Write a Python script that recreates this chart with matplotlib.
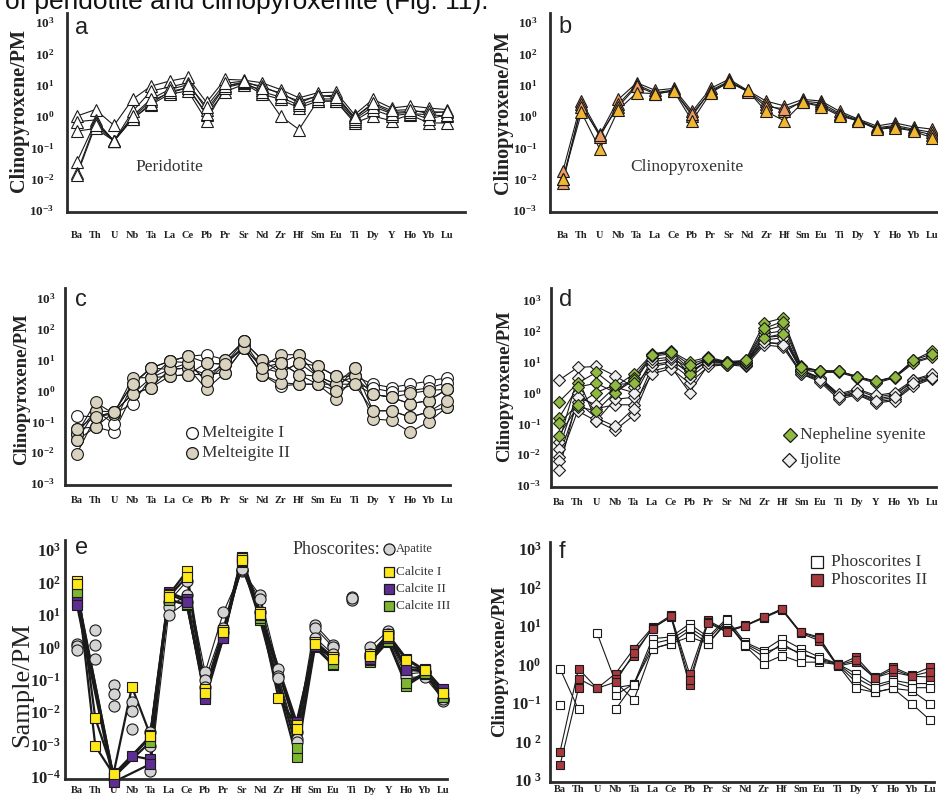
import numpy as np
import matplotlib
matplotlib.use("Agg")
import matplotlib.pyplot as plt
from matplotlib.lines import Line2D
from matplotlib.ticker import NullLocator

nan = np.nan

ELEMENTS = ["Ba", "Th", "U", "Nb", "Ta", "La", "Ce", "Pb", "Pr", "Sr", "Nd",
            "Zr", "Hf", "Sm", "Eu", "Ti", "Dy", "Y", "Ho", "Yb", "Lu"]

# a - peridotite
peridotite = [
    [1.0, 1.6, 0.5, 3.4, 9, 13, 17, 2.7, 14.8, 14, 11.5, 7, 3.8, 5.5, 5.8, 1.1, 3.4, 1.8, 2.1, 1.8, 1.6],
    [0.66, 0.75, 0.16, 1.4, 6.3, 8.4, 11.5, 1.6, 9, 11.5, 9, 5, 3.0, 4.3, 4.6, 0.9, 2.4, 1.3, 1.4, 1.4, 1.3],
    [0.33, 0.4, 0.16, 0.9, 3.0, 5.5, 8, 1.1, 6, 10, 7, 1.0, 0.37, 3.0, 3.0, 0.6, 1.0, 0.7, 1.1, 0.6, 0.6],
    [0.035, 0.65, 0.16, 0.8, 2.3, 5, 6.3, 0.7, 8, 11, 5, 3.4, 1.8, 3.0, 3.0, 0.7, 1.6, 1.0, 1.2, 1.1, 1.0],
    [0.015, 0.6, 0.16, 0.8, 2.5, 6, 8, 1.2, 9, 12, 6, 4, 2.2, 3.5, 3.5, 0.8, 2.0, 1.2, 1.3, 0.8, 1.1],
    [0.013, 0.5, 0.16, 1.0, 3.5, 7, 10, 2.0, 11, 13, 8, 5.5, 2.6, 4.5, 4.0, 0.9, 2.6, 1.5, 1.6, 1.2, 1.4],
]

# b - clinopyroxenite
clinopyroxenite_orange = [
    [0.018, 3.0, 0.26, 3.4, 11.5, 6.6, 7.6, 1.4, 7.6, 15, 6.6, 3.0, 2.1, 3.4, 3.0, 1.4, 0.8, 0.48, 0.6, 0.45, 0.38],
    [0.0075, 2.4, 0.22, 2.4, 10, 5.5, 6.8, 1.0, 6.5, 13, 6.3, 2.4, 1.4, 3.0, 2.6, 1.2, 0.75, 0.42, 0.5, 0.38, 0.3],
    [0.01, 2.0, 0.25, 2.0, 9, 5.0, 6.3, 1.2, 6.0, 12, 6.0, 2.0, 1.7, 2.8, 2.2, 1.1, 0.7, 0.4, 0.45, 0.35, 0.25],
]
clinopyroxenite_yellow = [
    [0.01, 1.3, 0.086, 1.6, 5.5, 5.2, 6.3, 0.7, 5.5, 12, 6.6, 1.4, 0.7, 2.7, 2.0, 1.0, 0.7, 0.38, 0.42, 0.33, 0.2],
]

# c - melteigite
melteigite_1 = [
    [0.15, 0.14, 0.175, 0.37, 2.6, 8.9, 12.9, 14.5, 10, 39, 10, 7.9, 14.5, 6.2, 2.9, 2.9, 1.6, 1.25, 1.6, 2.0, 2.6],
    [0.058, 0.066, 0.045, 0.76, 1.25, 2.9, 3.3, 7.9, 7, 27, 5.4, 3.8, 7.9, 2.9, 1.6, 1.6, 0.76, 0.6, 0.37, 0.47, 1.1],
    [0.04, 0.22, 0.084, 1.6, 5.4, 4.8, 5.4, 3.3, 3.8, 24, 3.3, 1.4, 1.6, 1.6, 1.0, 1.6, 1.2, 0.9, 1.0, 1.2, 1.8],
]
melteigite_2 = [
    [0.009, 0.14, 0.2, 1.6, 5.4, 8.9, 7.9, 2.0, 7, 27, 5.4, 14.5, 14.5, 2.9, 1.6, 5.4, 0.22, 0.22, 0.137, 0.2, 0.29],
    [0.024, 0.22, 0.2, 0.76, 2.6, 4.8, 5.4, 1.1, 3.8, 24, 3.3, 7.9, 3.3, 1.6, 0.53, 2.9, 0.76, 0.6, 0.37, 0.47, 1.1],
    [0.04, 0.41, 0.175, 2.6, 2.6, 2.9, 3.3, 3.3, 7, 24, 3.3, 1.8, 1.6, 1.6, 1.6, 2.9, 0.12, 0.107, 0.045, 0.095, 0.29],
    [0.024, 0.066, 0.2, 0.76, 1.25, 4.8, 7.9, 2.0, 10, 39, 10, 3.8, 7.9, 6.2, 2.9, 1.6, 0.22, 0.22, 0.137, 0.2, 0.47],
    [0.058, 0.14, 0.2, 1.6, 5.4, 8.9, 12.9, 7.9, 7, 39, 5.4, 7.9, 3.3, 2.9, 1.0, 5.4, 0.76, 0.6, 0.8, 1.0, 1.1],
]

# d - nepheline syenite / ijolite
nepheline_syenite = [
    [0.5, 2.0, 4.5, 1.5, 4, 18, 22, 10, 14, 10, 11, 180, 260, 7, 5, 5, 3.3, 2.3, 3.3, 11, 22],
    [0.15, 1.5, 2.0, 1.0, 3, 17, 20, 6, 13, 9, 10, 100, 150, 6, 5, 4.8, 3.2, 2.2, 3.2, 10, 15],
    [0.04, 0.35, 0.25, 1.0, 2.5, 15, 18, 4, 12, 8, 10, 60, 80, 5.5, 4.5, 4.5, 3.0, 2.0, 3.0, 9, 14],
    [0.1, 0.4, 1.0, 1.8, 2.0, 16, 21, 8, 13, 9, 11, 120, 200, 6.5, 5, 5, 3.2, 2.3, 3.2, 11, 18],
]
ijolite = [
    [2.5, 6.5, 7, 3.5, 1.5, 8, 10, 5, 10, 9, 9, 60, 70, 5, 3, 0.8, 1.0, 0.6, 0.8, 2.5, 3.5],
    [0.025, 3, 0.12, 0.06, 0.18, 5, 7, 1.0, 8, 8, 8, 40, 40, 4, 2.5, 0.7, 0.9, 0.5, 0.6, 1.8, 3],
    [0.015, 1.0, 0.3, 0.4, 0.4, 4, 6, 2, 7, 8, 7, 35, 30, 4, 2.2, 0.6, 0.85, 0.45, 0.55, 1.6, 2.8],
    [0.008, 0.5, 0.15, 0.08, 0.3, 7, 9, 3, 9, 9, 8, 50, 60, 5, 2.8, 0.8, 1.2, 0.7, 0.9, 2.2, 3.2],
    [0.006, 0.25, 0.12, 0.6, 0.7, 10, 12, 4, 11, 10, 9, 80, 100, 5.5, 3, 0.9, 1.3, 0.8, 1.0, 2.6, 4],
    [0.003, 0.7, 0.4, 1.5, 1.0, 12, 14, 6, 12, 10, 9, 45, 35, 4.5, 2.6, 0.7, 1.0, 0.55, 0.7, 2.0, 3.0],
]

# e - phoscorite minerals
apatite = [
    [1.3, 3.3, 0.07, 0.02, 0.0025, 25, 110, 0.17, 12, 230, 40, 0.22, 0.0025, 5, 1.2, 35, 1.0, 3.2, 0.2, 0.17, 0.025],
    [1.1, 1.2, 0.035, 0.011, 0.0009, 18, 40, 0.1, 4, 240, 30, 0.13, 0.0015, 4, 1.0, 28, 0.6, 2.5, 0.15, 0.17, 0.022],
    [0.85, 0.45, 0.015, 0.003, 0.00015, 10, 25, 0.06, 3, 260, 12, 0.11, 0.0012, 2, 0.6, 32, 0.5, 2.0, 0.12, 0.12, 0.025],
]
calcite_1 = [
    [110, 0.0065, 1.3e-4, 0.06, 0.002, 40, 220, 0.05, 3.5, 550, 12, 0.028, 0.004, 1.5, 0.5, nan, 0.6, 2.5, 0.45, 0.2, 0.04],
    [90, 0.0009, 1.2e-4, nan, 0.0018, 35, 150, 0.04, 3, 500, 11, nan, 0.003, 1.3, 0.45, nan, 0.55, 2.2, 0.4, 0.2, 0.04],
]
calcite_2 = [
    [25, nan, 9e-5, 4.5e-4, 3.5e-4, 50, 30, 0.03, 2.5, 600, 12, nan, 0.005, 1.3, 0.5, nan, 0.5, 2.2, 0.25, 0.22, 0.05],
    [20, nan, 7e-5, nan, 2.5e-4, 45, 25, 0.025, 2, 550, 10, nan, 0.004, 1.1, 0.45, nan, 0.45, 2.0, 0.2, 0.2, 0.04],
]
calcite_3 = [
    [50, nan, 1e-4, nan, 0.0017, 30, 20, 0.04, 2, 420, 7, nan, 4e-4, 1.0, 0.28, nan, 0.35, 1.5, 0.065, 0.15, 0.03],
    [45, nan, 1e-4, nan, 0.0012, 28, 22, 0.035, 2.2, 450, 8, nan, 8e-4, 1.1, 0.3, nan, 0.4, 1.6, 0.08, 0.16, 0.03],
]

# f - phoscorites
phoscorites_1 = [
    [0.78, 0.068, nan, 0.068, 0.32, 4.7, 5.2, 11.4, 5.2, 15.5, 3.8, 2.3, 4.7, 2.6, 1.57, 1.05, 0.58, 0.29, 0.39, 0.32, 0.32],
    [0.087, nan, 6.6, 0.35, 0.12, 2.6, 3.5, 7.7, 3.5, 13, 3.1, 1.05, 1.7, 1.15, 1.15, 1.0, 0.35, 0.19, 0.24, 0.21, 0.097],
    [nan, nan, nan, 0.16, 0.32, 2.6, 3.5, 5.2, 3.5, 12, 3.5, 2.0, 3.0, 2.0, 1.3, 1.0, 0.24, 0.19, 0.24, 0.097, 0.036],
    [nan, nan, nan, 0.25, 0.3, 3.5, 4.5, 9, 4.5, 14, 3.3, 1.6, 3.5, 1.8, 1.4, 1.05, 0.45, 0.25, 0.35, 0.25, 0.25],
]
phoscorites_2 = [
    [0.0054, 0.78, 0.24, 0.58, 2.6, 9.3, 19, 0.58, 14, 7.7, 10.4, 17, 28, 7, 5.2, 0.95, 1.57, 0.47, 0.85, 0.53, 0.85],
    [0.0024, 0.24, nan, 0.43, 1.7, 9.0, 17, 0.29, 13, 7.2, 10, 16, 26, 6.5, 4.2, 0.9, 1.15, 0.45, 0.63, 0.5, 0.47],
    [nan, 0.43, 0.24, 0.35, 2.0, 8.5, 18, 0.4, 12, 7, 10, 17, 27, 6.8, 4.8, 0.95, 1.3, 0.45, 0.75, 0.5, 0.65],
]

EDGE = "#1a1a1a"
W, H = 938, 800

plt.rcParams["font.family"] = ["Liberation Serif", "DejaVu Serif"]
plt.rcParams["mathtext.fontset"] = "custom"
plt.rcParams["mathtext.rm"] = "Liberation Serif"
plt.rcParams["mathtext.bf"] = "Liberation Serif:bold"

fig = plt.figure(figsize=(W / 100, H / 100), dpi=100)


def make_axes(l, t, r, b, ba_px, lu_px, lo_px, lo_exp, hi_px, hi_exp, exps, labels,
              ysize, xpad, ypad):
    ax = fig.add_axes([l / W, 1 - b / H, (r - l) / W, (b - t) / H])
    sp = (lu_px - ba_px) / (len(ELEMENTS) - 1)
    ax.set_xlim(-(ba_px - l) / sp, len(ELEMENTS) - 1 + (r - lu_px) / sp)
    dec = (lo_px - hi_px) / (hi_exp - lo_exp)
    ax.set_yscale("log")
    ax.set_ylim(10 ** (lo_exp - (b - lo_px) / dec), 10 ** (hi_exp + (hi_px - t) / dec))
    for s in ["top", "right"]:
        ax.spines[s].set_visible(False)
    for s in ["left", "bottom"]:
        ax.spines[s].set_linewidth(2)
        ax.spines[s].set_color("#2b2b2b")
    ax.set_xticks(range(len(ELEMENTS)))
    ax.set_xticklabels(ELEMENTS, fontsize=7.5, fontweight="bold", color="#222222")
    ax.set_yticks([10.0 ** e for e in exps])
    ax.set_yticklabels(labels, fontsize=ysize, color="#222222")
    ax.yaxis.set_minor_locator(NullLocator())
    ax.tick_params(axis="x", length=0, pad=xpad)
    ax.tick_params(axis="y", length=0, pad=ypad)
    return ax


def draw(ax, rows, marker, face, ms, lw=0.8, breaks=(), skip_nan=True, mew=0.8):
    idx = np.arange(len(ELEMENTS))
    cuts = [0] + [ELEMENTS.index(e) for e in breaks] + [len(ELEMENTS)]
    for row in rows:
        y = np.asarray(row, float)
        for s, e in zip(cuts[:-1], cuts[1:]):
            xs, ys = idx[s:e], y[s:e]
            if skip_nan:
                ok = np.isfinite(ys)
                xs, ys = xs[ok], ys[ok]
            ax.plot(xs, ys, "-", color=EDGE, lw=lw, zorder=2)
        ok = np.isfinite(y)
        ax.plot(idx[ok], y[ok], ls="none", marker=marker, mfc=face, mec=EDGE,
                ms=ms, mew=mew, zorder=3, clip_on=False)


def key(x, y, marker, face, ms, label, fs, dx=10, color="#333333"):
    fig.add_artist(Line2D([x / W], [1 - y / H], transform=fig.transFigure, ls="none",
                          marker=marker, mfc=face, mec=EDGE, ms=ms, mew=0.9))
    fig.text((x + dx) / W, 1 - y / H, label, fontsize=fs, va="center", color=color)


def letter(x, y, s):
    fig.text(x / W, 1 - y / H, s, fontsize=17, family="Liberation Sans", va="center",
             color="#222222")


def ylabel(x, y, s, fs, weight="bold"):
    fig.text(x / W, 1 - y / H, s, fontsize=fs, rotation=90, ha="center", va="center",
             fontweight=weight, color="#222222")


exps6 = list(range(-3, 4))
labels6 = [r"$\mathbf{10^{%d}}$" % e for e in exps6]

# caption line from the page, cut by the top edge as in the source
fig.text(5 / W, 1 - 9 / H, "of peridotite and clinopyroxenite (Fig. 11).", fontsize=19,
         family="Liberation Sans", va="baseline", color="#111111")

# a
ax = make_axes(67, 13, 465, 212, 77, 447, 210, -3, 22, 3, exps6, labels6, 9.5, 14, 9)
draw(ax, peridotite, "^", "white", 8)
fig.text(135 / W, 1 - 167 / H, "Peridotite", fontsize=12.5, va="center", color="#333333")
letter(75, 28, "a")
ylabel(19, 111, "Clinopyroxene/PM", 14.5)

# b
ax = make_axes(550, 13, 937, 212, 563, 932, 210, -3, 22, 3, exps6, labels6, 9.5, 14, 9)
draw(ax, clinopyroxenite_orange, "^", "#EC9C62", 8)
draw(ax, clinopyroxenite_yellow, "^", "#F2B630", 8)
fig.text(630 / W, 1 - 167 / H, "Clinopyroxenite", fontsize=12.5, va="center", color="#333333")
letter(558, 27, "b")
ylabel(503, 112, "Clinopyroxene/PM", 14.5)

# c
ax = make_axes(65, 288, 450, 485, 77, 447, 483, -3, 298, 3, exps6, labels6, 9.5, 8, 7)
draw(ax, melteigite_1, "o", "white", 8.5)
draw(ax, melteigite_2, "o", "#D8D2BE", 8.5)
key(192, 433, "o", "white", 8.5, "Melteigite I", 12.5)
key(192, 453, "o", "#D8D2BE", 8.5, "Melteigite II", 12.5)
letter(75, 300, "c")
ylabel(22, 389, "Clinopyroxene/PM", 13.5)

# d
ax = make_axes(551, 288, 936, 487, 559, 932, 485, -3, 300, 3, exps6, labels6, 9.5, 8, 7)
draw(ax, ijolite, "D", "#EFEFEF", 6.5)
draw(ax, nepheline_syenite, "D", "#8FBA3F", 6.5)
key(790, 435, "D", "#8FBA3F", 7, "Nepheline syenite", 12.5)
key(789, 460, "D", "#EFEFEF", 7, "Ijolite", 12.5)
letter(559, 300, "d")
ylabel(505, 386, "Clinopyroxene/PM", 13.5)

# e
exps7 = list(range(-4, 4))
labels7 = [r"$\mathbf{10^{%d}}$" % e for e in exps7]
ax = make_axes(65, 540, 447, 779, 77, 443, 777, -4, 550, 3, exps7, labels7, 12, 5, 3)
draw(ax, apatite, "o", "#D4D4D4", 8, breaks=("Th", "U", "Nb", "Ta", "Ti", "Dy"))
draw(ax, calcite_3, "s", "#7EB531", 7, lw=1.6, breaks=("Ti", "Dy"))
draw(ax, calcite_2, "s", "#5E2D91", 7, lw=1.6, breaks=("Ti", "Dy"))
draw(ax, calcite_1, "s", "#FFE81A", 7, lw=1.6, breaks=("Ti", "Dy"))
fig.text(293 / W, 1 - 549 / H, "Phoscorites:", fontsize=13, va="center", color="#333333")
key(389, 549, "o", "#D4D4D4", 8, "Apatite", 9, dx=7)
key(389, 572, "s", "#FFE81A", 7, "Calcite I", 9.5, dx=7)
key(389, 589, "s", "#5E2D91", 7, "Calcite II", 9.5, dx=7)
key(389, 606, "s", "#7EB531", 7, "Calcite III", 9.5, dx=7)
letter(75, 548, "e")
ylabel(22, 685, "Sample/PM", 19, weight="normal")

# f
labels_f = [r"$\mathbf{10^{\ 3}}$", r"$\mathbf{10^{\ 2}}$", r"$\mathbf{10^{-1}}$",
            r"$\mathbf{10^{0}}$", r"$\mathbf{10^{1}}$", r"$\mathbf{10^{2}}$", r"$\mathbf{10^{3}}$"]
ax = make_axes(550, 542, 934, 782, 560, 930, 780, -3, 549, 3, exps6, labels_f, 12, 2, 6)
draw(ax, phoscorites_1, "s", "white", 6, skip_nan=False)
draw(ax, phoscorites_2, "s", "#A63A3E", 6, skip_nan=False)
key(817, 562, "s", "white", 8, "Phoscorites I", 12.5, dx=14)
key(817, 580, "s", "#A63A3E", 8, "Phoscorites II", 12.5, dx=14)
letter(559, 552, "f")
ylabel(500, 661, "Clinopyroxene/PM", 13.5)

fig.savefig("out.png", dpi=100, facecolor="white")
